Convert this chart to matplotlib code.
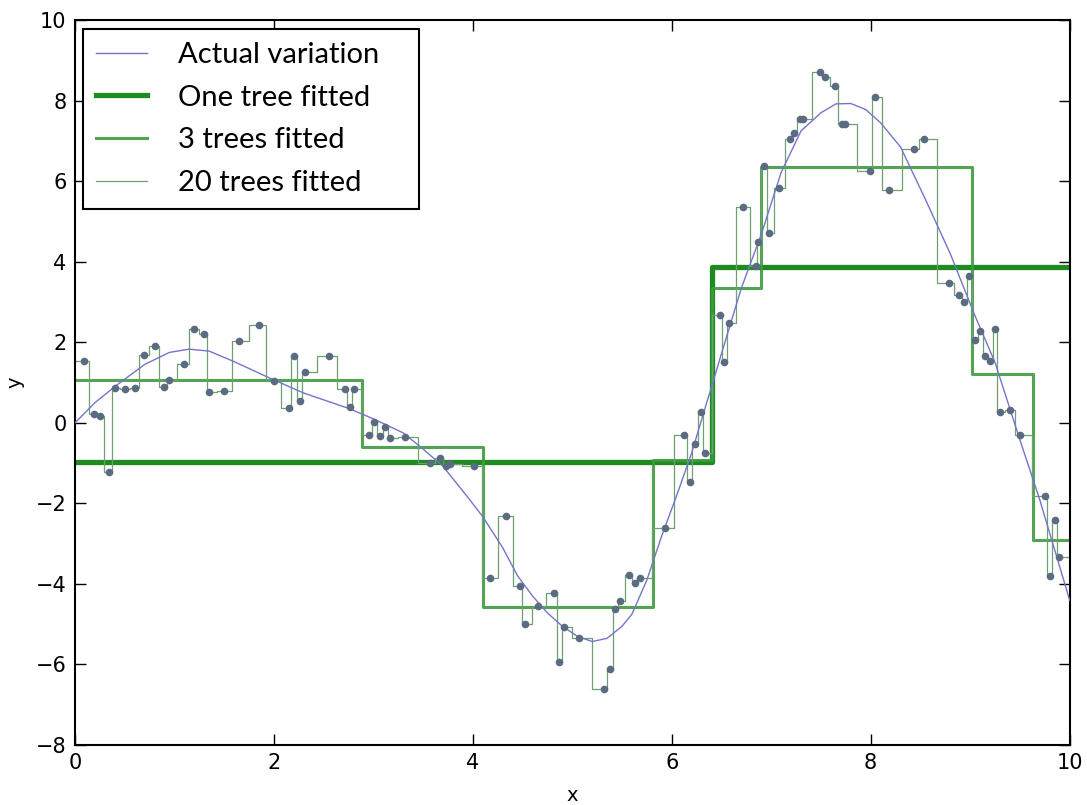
import matplotlib
matplotlib.use("Agg")
import matplotlib.pyplot as plt

# sample points
pts_x = [0.09, 0.19, 0.25, 0.34, 0.40, 0.50, 0.60, 0.69, 0.80, 0.89, 0.95, 1.10,
         1.20, 1.30, 1.35, 1.50, 1.65, 1.85, 2.00, 2.15, 2.20, 2.26, 2.31, 2.55,
         2.71, 2.76, 2.81, 2.96, 3.01, 3.07, 3.12, 3.17, 3.32, 3.57, 3.67, 3.73,
         3.77, 4.01, 4.17, 4.33, 4.47, 4.52, 4.66, 4.82, 4.87, 4.92, 5.07, 5.32,
         5.38, 5.43, 5.48, 5.57, 5.63, 5.68, 5.93, 6.12, 6.18, 6.23, 6.29, 6.33,
         6.48, 6.53, 6.58, 6.72, 6.85, 6.87, 6.93, 6.98, 7.08, 7.19, 7.23, 7.29,
         7.32, 7.49, 7.54, 7.64, 7.71, 7.74, 7.99, 8.04, 8.18, 8.44, 8.54, 8.79,
         8.89, 8.94, 8.99, 9.05, 9.10, 9.15, 9.20, 9.25, 9.30, 9.40, 9.50, 9.75,
         9.80, 9.85, 9.89]
pts_y = [1.54, 0.22, 0.17, -1.22, 0.86, 0.84, 0.86, 1.69, 1.91, 0.89, 1.07, 1.46,
         2.33, 2.21, 0.76, 0.80, 2.04, 2.43, 1.05, 0.36, 1.65, 0.55, 1.27, 1.66,
         0.85, 0.39, 0.85, -0.30, 0.02, -0.33, -0.10, -0.37, -0.36, -1.00, -0.88, -1.06,
         -1.02, -1.06, -3.85, -2.32, -4.06, -5.00, -4.54, -4.23, -5.93, -5.06, -5.34, -6.62,
         -6.10, -4.63, -4.42, -3.78, -3.98, -3.85, -2.61, -0.29, -1.47, -0.53, 0.28, -0.75,
         2.68, 1.50, 2.49, 5.36, 3.89, 4.48, 6.38, 4.72, 5.82, 7.05, 7.20, 7.54,
         7.54, 8.71, 8.58, 8.36, 7.42, 7.42, 6.25, 8.09, 5.78, 6.79, 7.04, 3.48,
         3.18, 2.99, 3.64, 2.05, 2.27, 1.65, 1.54, 2.32, 0.26, 0.31, -0.29, -1.81,
         -3.81, -2.42, -3.32]

# actual variation curve
curve_x = [0, 0.2, 0.4, 0.7, 0.95, 1.15, 1.35, 1.6, 1.95, 2.3, 2.75, 3.0, 3.3, 3.5,
           3.7, 3.95, 4.1, 4.3, 4.45, 4.6, 4.75, 4.9, 5.05, 5.2, 5.35, 5.5, 5.6,
           5.75, 5.9, 6.05, 6.2, 6.3, 6.5, 6.7, 6.9, 7.1, 7.3, 7.5, 7.65, 7.8,
           7.95, 8.1, 8.3, 8.55, 8.8, 9.05, 9.25, 9.5, 9.7, 9.9, 10.0]
curve_y = [0.0, 0.5, 0.9, 1.45, 1.75, 1.83, 1.78, 1.52, 1.12, 0.74, 0.36, 0.1, -0.25,
           -0.65, -1.08, -1.85, -2.33, -3.1, -3.8, -4.3, -4.72, -5.05, -5.3, -5.43,
           -5.35, -5.05, -4.75, -3.9, -2.8, -1.8, -0.75, 0.08, 1.72, 3.35, 4.68,
           6.22, 7.25, 7.7, 7.92, 7.93, 7.78, 7.45, 6.85, 5.55, 4.2, 2.65, 1.5,
           -0.42, -1.91, -3.57, -4.4]

# one tree fit
one_x = [0, 6.4, 10]
one_y = [-0.97, 3.87, 3.87]

# three trees fit
three_x = [0, 2.89, 4.10, 5.81, 6.40, 6.90, 9.02, 9.63, 10]
three_y = [1.07, -0.60, -4.57, -0.92, 3.35, 6.36, 1.22, -2.90, -2.90]

fig = plt.figure(figsize=(10.87, 8.05), dpi=100)
ax = fig.add_axes([0.069, 0.0745, 0.915, 0.9005])

ax.plot(curve_x, curve_y, color="#7474cc", lw=1.0, label="Actual variation", zorder=3)
ax.step(one_x, one_y, where="post", color="#1f8a1f", lw=3.8, label="One tree fitted", zorder=2)
ax.step(three_x, three_y, where="post", color="#3f9a3f", lw=2.2, alpha=0.9,
        label="3 trees fitted", zorder=2)

fit_x = [0] + pts_x + [10]
fit_y = [pts_y[0]] + pts_y + [pts_y[-1]]
ax.step(fit_x, fit_y, where="mid", color="#6fa06f", lw=0.9, label="20 trees fitted", zorder=2)
ax.plot(pts_x, pts_y, "o", color="#5b6b82", ms=5.5, mec="none", zorder=4)

ax.set_xlim(0, 10)
ax.set_ylim(-8, 10)
ax.set_xticks(range(0, 11, 2))
ax.set_yticks(range(-8, 11, 2))
ax.tick_params(direction="in", top=True, right=True, length=8, width=1,
               labelsize=15, pad=6)
for s in ax.spines.values():
    s.set_linewidth(1.5)
ax.set_xlabel("x", fontsize=14, labelpad=9)
ax.set_ylabel("y", fontsize=14, labelpad=8)

leg = ax.legend(loc="upper left", bbox_to_anchor=(0.008, 0.0, 0.338, 0.988),
                mode="expand", borderaxespad=0,
                fancybox=False, framealpha=1, edgecolor="black",
                prop={"family": "Lato", "size": 21},
                handlelength=1.75, handletextpad=1.05, labelspacing=0.57,
                borderpad=0.45)
leg.get_frame().set_linewidth(1.5)

plt.savefig("out.png", dpi=100)
